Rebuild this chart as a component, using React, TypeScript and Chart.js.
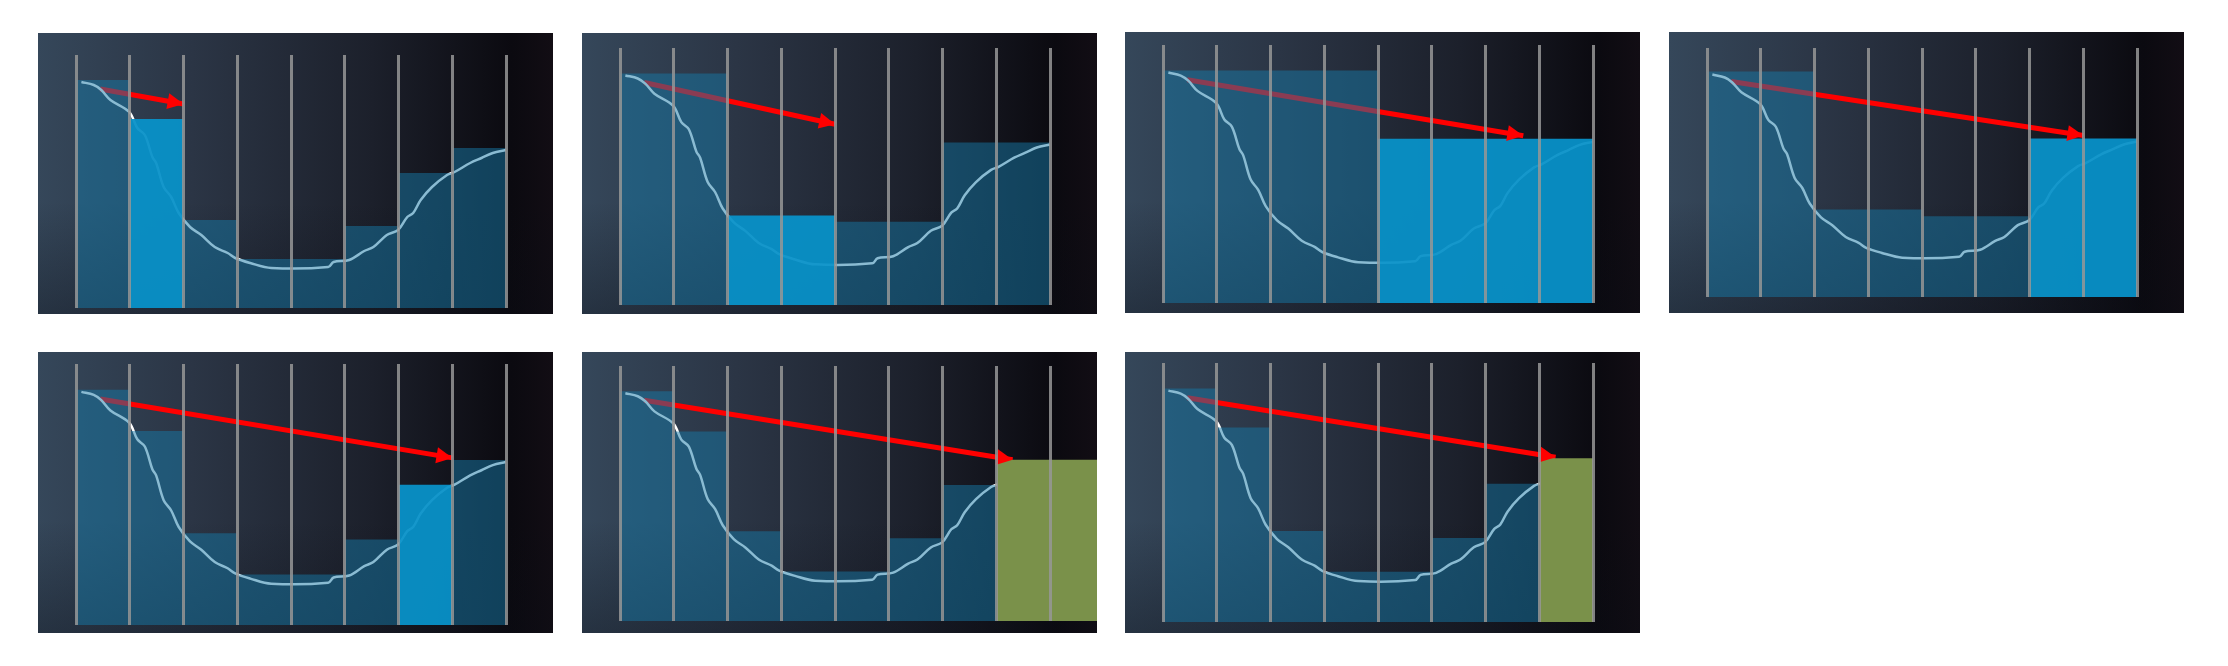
import { useEffect, useRef } from "react";
import Chart from "chart.js/auto";

// white curve, x in interval units (grid line 0..8), y in chart units
const curveX = [0.1, 0.33, 0.47, 0.64, 0.99, 1.14, 1.28, 1.42, 1.49, 1.63, 1.77, 1.91, 2.12, 2.33, 2.58, 2.82, 2.96, 3.24, 3.63, 4.69, 4.79, 5.08, 5.36, 5.53, 5.78, 5.99, 6.16, 6.27, 6.41, 6.62, 6.9, 7.04, 7.33, 7.54, 7.75, 7.99];
const curveY = [226, 223, 218, 208, 196, 180, 173, 151, 145, 121, 111, 95, 81, 73, 61, 55, 50, 45, 40, 41, 46, 48, 57, 61, 73, 78, 91, 95, 108, 121, 133, 136, 145, 150, 155, 158];

// bars: [from, to, height, kind] kind: 0 normal, 1 blue, 2 green
type Bar = [number, number, number, number];
const panel1: Bar[] = [[0, 1, 228, 0], [1, 2, 189, 1], [2, 3, 88, 0], [3, 4, 49, 0], [4, 5, 49, 0], [5, 6, 82, 0], [6, 7, 135, 0], [7, 8, 160, 0]];
const panel2: Bar[] = [[0, 2, 228, 0], [2, 4, 88, 1], [4, 6, 82, 0], [6, 8, 160, 0]];
const panel3: Bar[] = [[0, 4, 228, 0], [4, 8, 161, 1]];
const panel4: Bar[] = [[0, 2, 229, 0], [2, 4, 89, 0], [4, 6, 82, 0], [6, 8, 161, 1]];
const panel5: Bar[] = [[0, 1, 228, 0], [1, 2, 188, 0], [2, 3, 89, 0], [3, 4, 49, 0], [4, 5, 49, 0], [5, 6, 83, 0], [6, 7, 136, 1], [7, 8, 160, 0]];
const panel6: Bar[] = [[0, 1, 228, 0], [1, 2, 188, 0], [2, 3, 89, 0], [3, 4, 49, 0], [4, 5, 49, 0], [5, 6, 82, 0], [6, 7, 135, 0], [7, 8.87, 160, 2]];
const panel7: Bar[] = [[0, 1, 228, 0], [1, 2, 190, 0], [2, 3, 89, 0], [3, 4, 49, 0], [4, 5, 49, 0], [5, 6, 82, 0], [6, 7, 135, 0], [7, 8, 160, 2]];

// arrow tail / head
const arrowTail = [0.45, 219];
const arrowHeads = [[2.0, 204], [4.0, 178], [6.7, 164], [7.0, 164], [7.0, 162], [7.3, 160], [7.3, 161]];

const panels = [
  { bars: panel1, left: 38, top: 33, pt: 22, pb: 6 },
  { bars: panel2, left: 582, top: 33, pt: 15, pb: 9 },
  { bars: panel3, left: 1125, top: 32, pt: 13, pb: 10 },
  { bars: panel4, left: 1669, top: 32, pt: 16, pb: 16 },
  { bars: panel5, left: 38, top: 352, pt: 12, pb: 8 },
  { bars: panel6, left: 582, top: 352, pt: 14, pb: 12 },
  { bars: panel7, left: 1125, top: 352, pt: 11, pb: 11 },
];

const barColors = ["rgba(22,120,165,0.5)", "rgba(8,145,200,0.95)", "rgba(122,145,74,1)"];

const arrowHeadPlugin = {
  id: "arrowHead",
  afterDatasetsDraw(chart: any) {
    const ds = chart.data.datasets.find((d: any) => d.label === "arrow");
    if (!ds) return;
    const x = chart.scales.x, y = chart.scales.y;
    const [a, b] = ds.data;
    const x1 = x.getPixelForValue(a.x), y1 = y.getPixelForValue(a.y);
    const x2 = x.getPixelForValue(b.x), y2 = y.getPixelForValue(b.y);
    const ang = Math.atan2(y2 - y1, x2 - x1);
    const ctx = chart.ctx;
    ctx.save();
    ctx.fillStyle = "#ff0000";
    ctx.beginPath();
    ctx.moveTo(x2, y2);
    ctx.lineTo(x2 - 16 * Math.cos(ang) + 8 * Math.sin(ang), y2 - 16 * Math.sin(ang) - 8 * Math.cos(ang));
    ctx.lineTo(x2 - 16 * Math.cos(ang) - 8 * Math.sin(ang), y2 - 16 * Math.sin(ang) + 8 * Math.cos(ang));
    ctx.closePath();
    ctx.fill();
    ctx.restore();
  },
};

function Panel({ idx }: { idx: number }) {
  const ref = useRef<HTMLCanvasElement>(null);
  const p = panels[idx];
  useEffect(() => {
    if (!ref.current) return;
    const head = arrowHeads[idx];
    const ang = 0;
    const datasets: any[] = p.bars.map((b) => ({
      type: "line",
      data: [{ x: b[0], y: b[2] }, { x: b[1], y: b[2] }],
      fill: "origin",
      backgroundColor: barColors[b[3]],
      borderWidth: 0,
      pointRadius: 0,
    }));
    datasets.push({
      type: "line",
      data: curveX.map((x, i) => ({ x, y: curveY[i] })),
      borderColor: "#ffffff",
      borderWidth: 2.5,
      pointRadius: 0,
      tension: 0.35,
      fill: false,
    });
    // shorten arrow shaft so head covers the tip
    const tail = arrowTail;
    datasets.push({
      label: "arrow",
      type: "line",
      data: [{ x: tail[0], y: tail[1] }, { x: head[0], y: head[1] + ang }],
      borderColor: "#ff0000",
      borderWidth: 5,
      pointRadius: 0,
      fill: false,
    });
    const chart = new Chart(ref.current, {
      type: "line",
      data: { datasets },
      plugins: [arrowHeadPlugin],
      options: {
        animation: false,
        responsive: false,
        layout: { padding: { left: 38, right: 0, top: p.pt, bottom: p.pb } },
        plugins: { legend: { display: false }, tooltip: { enabled: false } },
        scales: {
          x: {
            type: "linear",
            min: 0,
            max: 8.87,
            ticks: { display: false, stepSize: 1, includeBounds: false },
            grid: { color: "rgba(150,150,150,0.85)", lineWidth: 3, drawTicks: false, z: 1 },
            border: { display: false },
          },
          y: {
            min: 0,
            max: 253,
            display: false,
          },
        },
      },
    });
    return () => chart.destroy();
  }, []);
  return (
    <div
      style={{
        position: "absolute",
        left: p.left,
        top: p.top,
        width: 515,
        height: 281,
        background:
          "linear-gradient(to top, rgba(10,12,20,0.35), rgba(0,0,0,0) 40%), linear-gradient(90deg, #35475a 0%, #2b3545 30%, #1c202b 65%, #0b0a10 92%, #120d14 100%)",
      }}
    >
      <canvas ref={ref} width={515} height={281} style={{ display: "block" }} />
    </div>
  );
}

export default function App() {
  return (
    <div>
      {panels.map((_, i) => (
        <Panel key={i} idx={i} />
      ))}
    </div>
  );
}
